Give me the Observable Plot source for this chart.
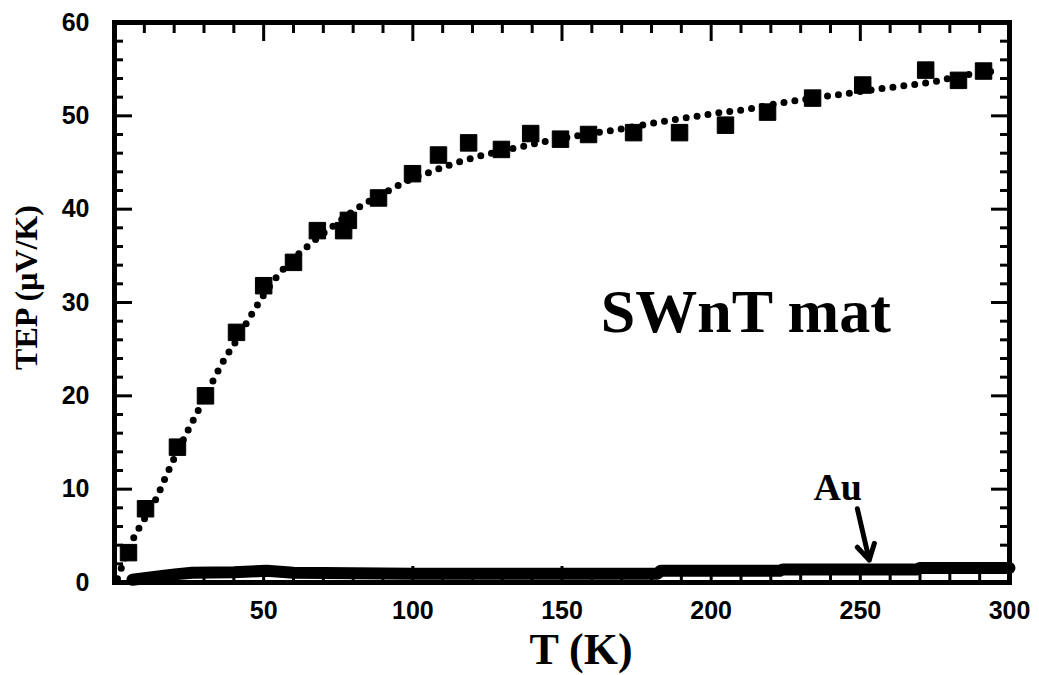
<!DOCTYPE html>
<html><head><meta charset="utf-8">
<script src="https://cdn.jsdelivr.net/npm/d3@7"></script>
<script src="https://cdn.jsdelivr.net/npm/@observablehq/plot@0.6"></script>
<style>
body{margin:0;background:#fff}
svg{font-family:"Liberation Sans",sans-serif;}
</style>
</head><body><div id="chart"></div>
<script>
// SWnT mat measured TEP (squares)
const swntT   = [4.7, 10.4, 21.1, 30.5, 40.9, 50.0, 60.0, 68.0, 76.8, 78.4, 88.5, 99.9, 108.6, 118.7, 129.7, 139.5, 149.5, 158.9, 174.0, 189.4, 204.8, 218.9, 234.0, 250.8, 271.9, 282.9, 291.3];
const swntTEP = [3.2, 7.9, 14.5, 20.0, 26.8, 31.8, 34.3, 37.7, 37.7, 38.8, 41.2, 43.8, 45.8, 47.1, 46.4, 48.1, 47.5, 48.0, 48.2, 48.2, 49.0, 50.4, 51.9, 53.3, 54.9, 53.8, 54.8];

// dotted fit curve
const fitT   = [1, 6, 10, 14, 17, 20, 24, 28, 33, 37, 41, 45, 50, 55, 60, 65, 70, 75, 80, 85, 92, 100, 106, 112, 118, 125, 135, 145, 154, 164, 170, 180, 186, 196, 202, 212, 222, 228, 241, 248, 252, 264, 277, 281, 288, 297];
const fitTEP = [0.4, 4.5, 6.8, 9.0, 11.2, 13.3, 15.9, 18.4, 21.6, 24.0, 26.0, 28.2, 30.8, 33.0, 34.7, 36.1, 37.4, 38.6, 39.8, 40.8, 42.0, 43.3, 44.0, 44.7, 45.3, 45.9, 46.6, 47.3, 47.8, 48.3, 48.6, 49.2, 49.5, 50.0, 50.3, 50.7, 51.3, 51.6, 52.2, 52.5, 52.7, 53.2, 53.8, 54.1, 54.5, 54.9];

// Au reference (thick line)
const auT   = [6, 10, 16, 21, 26, 40, 51, 60, 100, 140, 163, 182, 183, 223, 224, 269, 270, 300];
const auTEP = [0.3, 0.45, 0.7, 0.9, 1.05, 1.1, 1.25, 1.05, 0.95, 0.95, 0.95, 0.95, 1.25, 1.25, 1.4, 1.4, 1.55, 1.55];

// ticks
const xTickLabels = [50, 100, 150, 200, 250, 300];
const yTickLabels = [0, 10, 20, 30, 40, 50, 60];
const xMajorTicks = [50, 100, 150, 200, 250];
const xMinorTicks = [10, 20, 30, 40, 60, 70, 80, 90, 110, 120, 130, 140, 160, 170, 180, 190, 210, 220, 230, 240, 260, 270, 280, 290];
const yMajorTicks = [10, 20, 30, 40, 50];
const yMinorTicks = [2, 4, 6, 8, 12, 14, 16, 18, 22, 24, 26, 28, 32, 34, 36, 38, 42, 44, 46, 48, 52, 54, 56, 58];

// annotations
const xLabel = "T (K)";
const yLabel = "TEP (\u03BCV/K)";
const sampleLabel = "SWnT mat";
const sampleLabelAt = [163, 29];
const auLabel = "Au";
const auLabelAt = [242.4, 10.1];
const auArrow = [{x1: 249, y1: 7.9, x2: 253, y2: 2.4}];

const swnt = swntT.map((t, i) => ({T: t, TEP: swntTEP[i]}));
const fit = fitT.map((t, i) => ({T: t, TEP: fitTEP[i]}));
const au = auT.map((t, i) => ({T: t, TEP: auTEP[i]}));

const serif = "Liberation Serif, Times New Roman, serif";
const sans = "Liberation Sans, Arial, sans-serif";

// frame size in pixels (for inward tick insets)
const W = 1039, H = 675, mL = 114, mR = 30, mT = 22, mB = 93;
const fw = W - mL - mR, fh = H - mT - mB;

const chart = Plot.plot({
  width: W,
  height: H,
  marginLeft: mL,
  marginRight: mR,
  marginTop: mT,
  marginBottom: mB,
  style: {background: "#fff", color: "#000"},
  x: {domain: [0, 300], label: null},
  y: {domain: [0, 60], label: null},
  marks: [
    Plot.line(fit, {x: "T", y: "TEP", stroke: "#000", strokeWidth: 7, strokeDasharray: "0,11", strokeLinecap: "round", curve: "monotone-x"}),
    Plot.line(au, {x: "T", y: "TEP", stroke: "#000", strokeWidth: 12}),
    Plot.dot(swnt, {x: "T", y: "TEP", symbol: "square", r: 9.3, fill: "#000", stroke: "#000", strokeWidth: 1}),
    // tick labels
    Plot.axisX({anchor: "bottom", ticks: xTickLabels, tickSize: 0, tickPadding: 19, fontSize: 25, fontWeight: "bold", fontFamily: sans, label: null}),
    Plot.axisY({anchor: "left", ticks: yTickLabels, tickSize: 0, tickPadding: 25, fontSize: 25, fontWeight: "bold", fontFamily: sans, label: null}),
    // inward ticks
    Plot.ruleX(xMinorTicks, {x: d => d, insetBottom: fh - 11, stroke: "#000", strokeWidth: 3}),
    Plot.ruleX(xMajorTicks, {x: d => d, insetBottom: fh - 19, stroke: "#000", strokeWidth: 3}),
    Plot.ruleX(xMinorTicks, {x: d => d, insetTop: fh - 9, stroke: "#000", strokeWidth: 3}),
    Plot.ruleX(xMajorTicks, {x: d => d, insetTop: fh - 16, stroke: "#000", strokeWidth: 3}),
    Plot.ruleY(yMinorTicks, {y: d => d, insetRight: fw - 9, stroke: "#000", strokeWidth: 3}),
    Plot.ruleY(yMajorTicks, {y: d => d, insetRight: fw - 18, stroke: "#000", strokeWidth: 3}),
    Plot.ruleY(yMinorTicks, {y: d => d, insetLeft: fw - 9, stroke: "#000", strokeWidth: 3}),
    Plot.ruleY(yMajorTicks, {y: d => d, insetLeft: fw - 18, stroke: "#000", strokeWidth: 3}),
    Plot.frame({stroke: "#000", strokeWidth: 5}),
    // labels
    Plot.text([xLabel], {frameAnchor: "bottom", textAnchor: "middle", dx: 19, dy: 81, fontSize: 44, fontWeight: "bold", fontFamily: serif, fill: "#000"}),
    Plot.text([yLabel], {frameAnchor: "left", textAnchor: "middle", rotate: -90, dx: -88, dy: -15, fontSize: 32, fontWeight: "bold", fontFamily: serif, fill: "#000"}),
    Plot.text([sampleLabel], {x: () => sampleLabelAt[0], y: () => sampleLabelAt[1], textAnchor: "start", fontSize: 62, fontWeight: "bold", fontFamily: serif, fill: "#000"}),
    Plot.text([auLabel], {x: () => auLabelAt[0], y: () => auLabelAt[1], fontSize: 38, fontWeight: "bold", fontFamily: serif, fill: "#000"}),
    Plot.arrow(auArrow, {x1: "x1", y1: "y1", x2: "x2", y2: "y2", stroke: "#000", strokeWidth: 5, headLength: 14, bend: 0})
  ]
});
document.getElementById("chart").append(chart);
</script>
</body></html>
